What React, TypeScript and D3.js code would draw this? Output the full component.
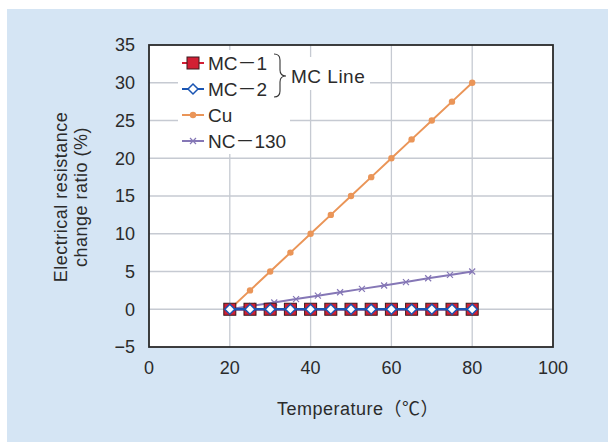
import React, { useEffect, useRef } from 'react';
import * as d3 from 'd3';

// MC-1 / MC-2 / Cu temperatures (every 5 degrees)
const tempsMC = [20, 25, 30, 35, 40, 45, 50, 55, 60, 65, 70, 75, 80];
const mc1 = [0, 0, 0, 0, 0, 0, 0, 0, 0, 0, 0, 0, 0];
const mc2 = [0, 0, 0, 0, 0, 0, 0, 0, 0, 0, 0, 0, 0];
const cu = [0, 2.5, 5, 7.5, 10, 12.5, 15, 17.5, 20, 22.5, 25, 27.5, 30];
// NC-130 sampled on its own temperature grid
const tempsNC = [20, 25.5, 31, 36.4, 41.8, 47.3, 52.7, 58.2, 63.6, 69.1, 74.5, 80];
const nc130 = [0, 0.45, 0.9, 1.35, 1.8, 2.25, 2.7, 3.15, 3.6, 4.1, 4.55, 5.0];

const xTicks = [0, 20, 40, 60, 80, 100];
const yTicks = [-5, 0, 5, 10, 15, 20, 25, 30, 35];

const FONT = '"Liberation Sans", Arial, "Noto Sans CJK JP", sans-serif';
const TEXT = '#2b2b2b';
const FS = 18;
const LFS = 19;

const App: React.FC = () => {
  const svgRef = useRef<SVGSVGElement>(null);

  useEffect(() => {
    if (!svgRef.current) return;
    const svg = d3.select(svgRef.current);
    svg.selectAll('*').remove();

    // panel background
    svg.append('rect')
      .attr('x', 7).attr('y', 9).attr('width', 601).attr('height', 433)
      .attr('fill', '#d5e5f4');

    const plot = { left: 149, right: 553, top: 45, bottom: 347 };
    const x = d3.scaleLinear().domain([0, 100]).range([plot.left, plot.right]);
    const y = d3.scaleLinear().domain([-5, 35]).range([plot.bottom, plot.top]);

    svg.append('rect')
      .attr('x', plot.left).attr('y', plot.top)
      .attr('width', plot.right - plot.left).attr('height', plot.bottom - plot.top)
      .attr('fill', '#fff');

    // grid
    const grid = svg.append('g').attr('stroke', '#c6cad2').attr('stroke-width', 1.3);
    yTicks.filter(t => t > -5 && t < 35).forEach(t => {
      grid.append('line')
        .attr('x1', plot.left).attr('x2', plot.right)
        .attr('y1', y(t)).attr('y2', y(t));
    });
    xTicks.filter(t => t > 0 && t < 100).forEach(t => {
      grid.append('line')
        .attr('x1', x(t)).attr('x2', x(t))
        .attr('y1', plot.top).attr('y2', plot.bottom);
    });

    // legend background patches (hide grid behind legend)
    svg.append('rect').attr('x', 178).attr('y', 50).attr('width', 112).attr('height', 104).attr('fill', '#fff');
    svg.append('rect').attr('x', 283).attr('y', 57).attr('width', 87).attr('height', 33).attr('fill', '#fff');

    // frame
    svg.append('rect')
      .attr('x', plot.left).attr('y', plot.top)
      .attr('width', plot.right - plot.left).attr('height', plot.bottom - plot.top)
      .attr('fill', 'none').attr('stroke', '#2a2a2a').attr('stroke-width', 1.8);

    // tick labels
    svg.append('g').selectAll('text').data(yTicks).join('text')
      .attr('x', 135).attr('y', d => y(d)).attr('dy', '0.36em')
      .attr('text-anchor', 'end')
      .attr('font-family', FONT).attr('font-size', FS).attr('fill', TEXT)
      .text(d => (d < 0 ? '\u2212' + Math.abs(d) : String(d)));

    svg.append('g').selectAll('text').data(xTicks).join('text')
      .attr('x', d => x(d)).attr('y', 374)
      .attr('text-anchor', 'middle')
      .attr('font-family', FONT).attr('font-size', FS).attr('fill', TEXT)
      .text(d => String(d));

    // axis titles
    svg.append('text')
      .attr('x', 277).attr('y', 415).attr('text-anchor', 'start')
      .attr('font-family', FONT).attr('font-size', FS).attr('fill', TEXT)
      .attr('letter-spacing', 0.5)
      .text('Temperature\uff08\u2103\uff09');

    const yt = svg.append('text')
      .attr('transform', 'translate(0,197) rotate(-90)')
      .attr('text-anchor', 'middle')
      .attr('font-family', FONT).attr('font-size', FS).attr('fill', TEXT)
      .attr('letter-spacing', 0.5);
    yt.append('tspan').attr('x', 0).attr('y', 67).text('Electrical resistance');
    yt.append('tspan').attr('x', 0).attr('y', 87).text('change ratio (%)');

    const line = d3.line<[number, number]>().x(d => x(d[0])).y(d => y(d[1]));

    const series = svg.append('g');
    const ncPts: [number, number][] = tempsNC.map((t, i) => [t, nc130[i]]);
    const cuPts: [number, number][] = tempsMC.map((t, i) => [t, cu[i]]);
    const mc1Pts: [number, number][] = tempsMC.map((t, i) => [t, mc1[i]]);
    const mc2Pts: [number, number][] = tempsMC.map((t, i) => [t, mc2[i]]);

    const purple = '#8577b6';
    const orange = '#ea9558';
    const red = '#d21f34';
    const blue = '#1a55b3';

    // NC-130
    series.append('path').attr('d', line(ncPts)).attr('fill', 'none')
      .attr('stroke', purple).attr('stroke-width', 2);
    const cross = (g: any, cx: number, cy: number, s: number, c: string) => {
      g.append('path')
        .attr('d', `M${cx - s},${cy - s}L${cx + s},${cy + s}M${cx - s},${cy + s}L${cx + s},${cy - s}`)
        .attr('stroke', c).attr('stroke-width', 1.2).attr('fill', 'none');
    };
    const ncG = series.append('g');
    ncPts.forEach(p => cross(ncG, x(p[0]), y(p[1]), 3, purple));

    // Cu
    series.append('path').attr('d', line(cuPts)).attr('fill', 'none')
      .attr('stroke', orange).attr('stroke-width', 2);
    series.append('g').selectAll('circle').data(cuPts).join('circle')
      .attr('cx', d => x(d[0])).attr('cy', d => y(d[1])).attr('r', 3.2)
      .attr('fill', orange);

    // MC-1
    series.append('path').attr('d', line(mc1Pts)).attr('fill', 'none')
      .attr('stroke', red).attr('stroke-width', 2.5);
    series.append('g').selectAll('rect').data(mc1Pts).join('rect')
      .attr('x', d => x(d[0]) - 6).attr('y', d => y(d[1]) - 6)
      .attr('width', 12).attr('height', 12)
      .attr('fill', red).attr('stroke', '#3a1a1e').attr('stroke-width', 1);

    // MC-2
    series.append('path').attr('d', line(mc2Pts)).attr('fill', 'none')
      .attr('stroke', blue).attr('stroke-width', 2.5);
    series.append('g').selectAll('path').data(mc2Pts).join('path')
      .attr('d', d => {
        const cx = x(d[0]), cy = y(d[1]), s = 5;
        return `M${cx},${cy - s}L${cx + s},${cy}L${cx},${cy + s}L${cx - s},${cy}Z`;
      })
      .attr('fill', '#fff').attr('stroke', blue).attr('stroke-width', 1.5);

    // legend
    const lg = svg.append('g');
    const rows = [
      { label: 'MC\uff0d1', y: 63 },
      { label: 'MC\uff0d2', y: 89 },
      { label: 'Cu', y: 115 },
      { label: 'NC\uff0d130', y: 141 },
    ];
    const lx0 = 182, lx1 = 204;
    // MC-1
    lg.append('line').attr('x1', lx0).attr('x2', lx1).attr('y1', rows[0].y).attr('y2', rows[0].y)
      .attr('stroke', red).attr('stroke-width', 2);
    lg.append('rect').attr('x', 187).attr('y', rows[0].y - 6).attr('width', 12).attr('height', 12)
      .attr('fill', red).attr('stroke', '#3a1a1e').attr('stroke-width', 1);
    // MC-2
    lg.append('line').attr('x1', lx0).attr('x2', lx1).attr('y1', rows[1].y).attr('y2', rows[1].y)
      .attr('stroke', blue).attr('stroke-width', 2);
    lg.append('path').attr('d', `M193,${rows[1].y - 5}L198,${rows[1].y}L193,${rows[1].y + 5}L188,${rows[1].y}Z`)
      .attr('fill', '#fff').attr('stroke', blue).attr('stroke-width', 1.5);
    // Cu
    lg.append('line').attr('x1', lx0).attr('x2', lx1).attr('y1', rows[2].y).attr('y2', rows[2].y)
      .attr('stroke', orange).attr('stroke-width', 2);
    lg.append('circle').attr('cx', 193).attr('cy', rows[2].y).attr('r', 3.2).attr('fill', orange);
    // NC-130
    lg.append('line').attr('x1', lx0).attr('x2', lx1).attr('y1', rows[3].y).attr('y2', rows[3].y)
      .attr('stroke', purple).attr('stroke-width', 2);
    cross(lg, 193, rows[3].y, 3, purple);

    lg.selectAll('text.lbl').data(rows).join('text')
      .attr('class', 'lbl')
      .attr('x', 208).attr('y', d => d.y).attr('dy', '0.36em')
      .attr('font-family', FONT).attr('font-size', LFS).attr('fill', TEXT)
      .text(d => d.label);

    // brace + group label
    lg.append('path')
      .attr('d', 'M274,54 Q280,54 280,60 L280,70 Q280,76 286,76 Q280,76 280,82 L280,91 Q280,97 274,97')
      .attr('fill', 'none').attr('stroke', '#333').attr('stroke-width', 1.1);
    lg.append('text')
      .attr('x', 291).attr('y', 76).attr('dy', '0.36em')
      .attr('font-family', FONT).attr('font-size', LFS).attr('fill', TEXT)
      .attr('letter-spacing', 0.5)
      .text('MC Line');
  }, []);

  return (
    <svg
      ref={svgRef}
      width={608}
      height={442}
      style={{ position: 'absolute', left: 0, top: 0, display: 'block', background: '#fff' }}
    />
  );
};

export default App;
